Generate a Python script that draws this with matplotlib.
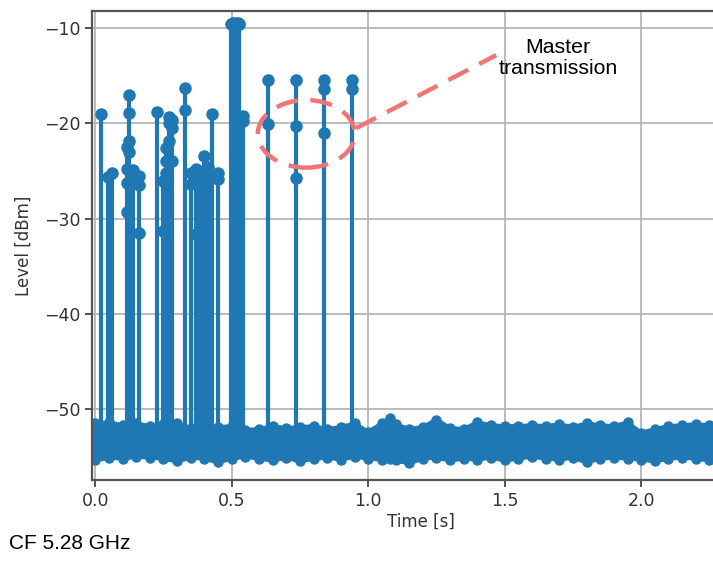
import matplotlib
matplotlib.use("Agg")
import matplotlib.pyplot as plt
from matplotlib.patches import Ellipse

# ---- data ----
# pulses: time [s] and the sample levels [dBm] seen along each spike
pulse_t = [0.021, 0.048, 0.060, 0.118, 0.122, 0.138, 0.160, 0.228, 0.250, 0.258,
           0.272, 0.282, 0.327, 0.350, 0.368, 0.385, 0.400, 0.412, 0.428, 0.450,
           0.498, 0.501, 0.504, 0.507, 0.510, 0.513, 0.516, 0.519, 0.522, 0.525,
           0.528, 0.540,
           0.632, 0.736, 0.838, 0.941]
pulse_levels = [
    [-19.0], [-25.6], [-25.2],
    [-22.5, -24.8, -26.3, -29.3],
    [-17.0, -18.9, -21.9, -23.0],
    [-24.9, -26.0],
    [-25.5, -26.5, -31.5],
    [-18.8],
    [-26.0, -31.3],
    [-22.6, -24.0, -25.2],
    [-19.3, -20.0, -21.8],
    [-19.6, -20.5, -24.0],
    [-16.3, -18.6],
    [-25.2, -26.4],
    [-24.8, -26.0, -31.6],
    [-25.5, -26.2],
    [-23.4, -25.0, -26.8, -31.0],
    [-24.6, -25.8],
    [-19.0],
    [-25.2, -25.8],
    [-9.6], [-9.6], [-9.5], [-9.6], [-9.6], [-9.5], [-9.6], [-9.6], [-9.5], [-9.6],
    [-9.6], [-19.2, -19.8],
    [-15.4, -20.1],
    [-15.4, -20.3, -25.7],
    [-15.4, -16.4, -21.0],
    [-15.4, -16.4],
]

# noise floor: sample time and upper / lower sample levels
noise_t = [-0.02, 0.00, 0.05, 0.10, 0.15, 0.20, 0.25, 0.30, 0.35, 0.40, 0.45, 0.50,
           0.55, 0.60, 0.65, 0.70, 0.75, 0.80, 0.85, 0.90, 0.95, 1.00, 1.05, 1.08,
           1.10, 1.15, 1.20, 1.25, 1.30, 1.35, 1.40, 1.45, 1.50, 1.55, 1.60, 1.65,
           1.70, 1.75, 1.80, 1.85, 1.90, 1.95, 2.00, 2.05, 2.10, 2.15, 2.20, 2.25,
           2.30, 2.35, 2.40]
noise_hi = [-51.6, -51.5, -51.4, -51.7, -51.5, -51.8, -51.6, -51.5, -52.0, -52.1,
            -51.9, -51.8, -52.2, -52.1, -51.8, -52.0, -51.9, -51.8, -52.1, -51.9,
            -51.5, -52.4, -51.5, -50.9, -51.6, -52.1, -51.9, -51.1, -52.0, -52.1,
            -51.4, -51.7, -51.8, -51.8, -51.7, -51.8, -51.6, -51.9, -51.5, -51.7,
            -51.8, -51.4, -52.5, -52.1, -51.8, -51.7, -51.6, -51.7, -51.8, -51.7,
            -51.8]
noise_lo = [-55.1, -55.4, -55.1, -55.2, -55.0, -55.1, -55.2, -55.5, -55.1, -55.2,
            -55.6, -55.2, -55.0, -55.2, -55.4, -55.1, -55.5, -55.2, -55.1, -55.3,
            -55.0, -55.2, -55.3, -55.2, -55.4, -55.7, -55.2, -55.1, -55.4, -55.2,
            -55.3, -55.1, -55.4, -55.2, -55.0, -55.2, -55.3, -55.1, -55.6, -55.2,
            -55.1, -55.2, -55.3, -55.5, -55.2, -55.1, -55.2, -55.4, -55.2, -55.3,
            -55.2]
pulse_base = -53.0

x_ticks = [0.0, 0.5, 1.0, 1.5, 2.0]
y_ticks = [-50, -40, -30, -20, -10]

annot_text = "Master\ntransmission"
footer_text = "CF 5.28 GHz"

# ---- figure ----
blue = "#1f77b4"
red = "#f27474"
fig = plt.figure(figsize=(7.13, 5.67), dpi=100)
ax = fig.add_axes([0.129, 0.1534, 0.9215, 0.8272])

lw = 3.0
ms = 8.0
ax.fill_between(noise_t, noise_lo, noise_hi, color=blue, lw=0, zorder=2)
for env in (noise_hi, noise_lo):
    ax.plot(noise_t, env, "-o", color=blue, lw=3.0, ms=6.5, zorder=2,
            solid_joinstyle="round")

for t, lv in zip(pulse_t, pulse_levels):
    ax.plot([t, t], [pulse_base, max(lv)], color=blue, lw=lw, zorder=2,
            solid_capstyle="butt")
    ax.plot([t] * len(lv), lv, "o", color=blue, ms=ms, zorder=2)

ax.set_xlim(-0.012, 2.395)
ax.set_ylim(-57.45, -8.2)
ax.set_xticks(x_ticks)
ax.set_xticklabels([f"{v:.1f}" for v in x_ticks])
ax.set_yticks(y_ticks)
ax.set_yticklabels([f"\u2212{abs(v)}" for v in y_ticks])
ax.grid(True, color="#b5b5b5", lw=1.3)
ax.tick_params(labelsize=12.5, colors="#333333", length=5, width=1.2)
for s in ax.spines.values():
    s.set_color("#555555")
    s.set_linewidth(1.6)
ax.set_xlabel("Time [s]", fontsize=12, color="#333333", labelpad=2)
ax.set_ylabel("Level [dBm]", fontsize=12, color="#333333", labelpad=8)

# annotation
ell = Ellipse((0.773, -21.1), 0.355, 7.1, fill=False, edgecolor=red, lw=3.2,
              linestyle=(0, (5, 2.8)), zorder=4)
ax.add_patch(ell)
ax.plot([0.956, 1.469], [-20.5, -12.83], color=red, lw=3.2,
        linestyle=(0, (5, 2.8)), zorder=4)
ax.text(1.696, -13.15, annot_text, ha="center", va="center", fontsize=15.3,
        family="Liberation Sans", color="black", linespacing=1.12)

fig.text(0.0126, 0.042, footer_text, ha="left", va="center", fontsize=15,
         family="Liberation Sans", color="black")

fig.savefig("out.png", dpi=100)
